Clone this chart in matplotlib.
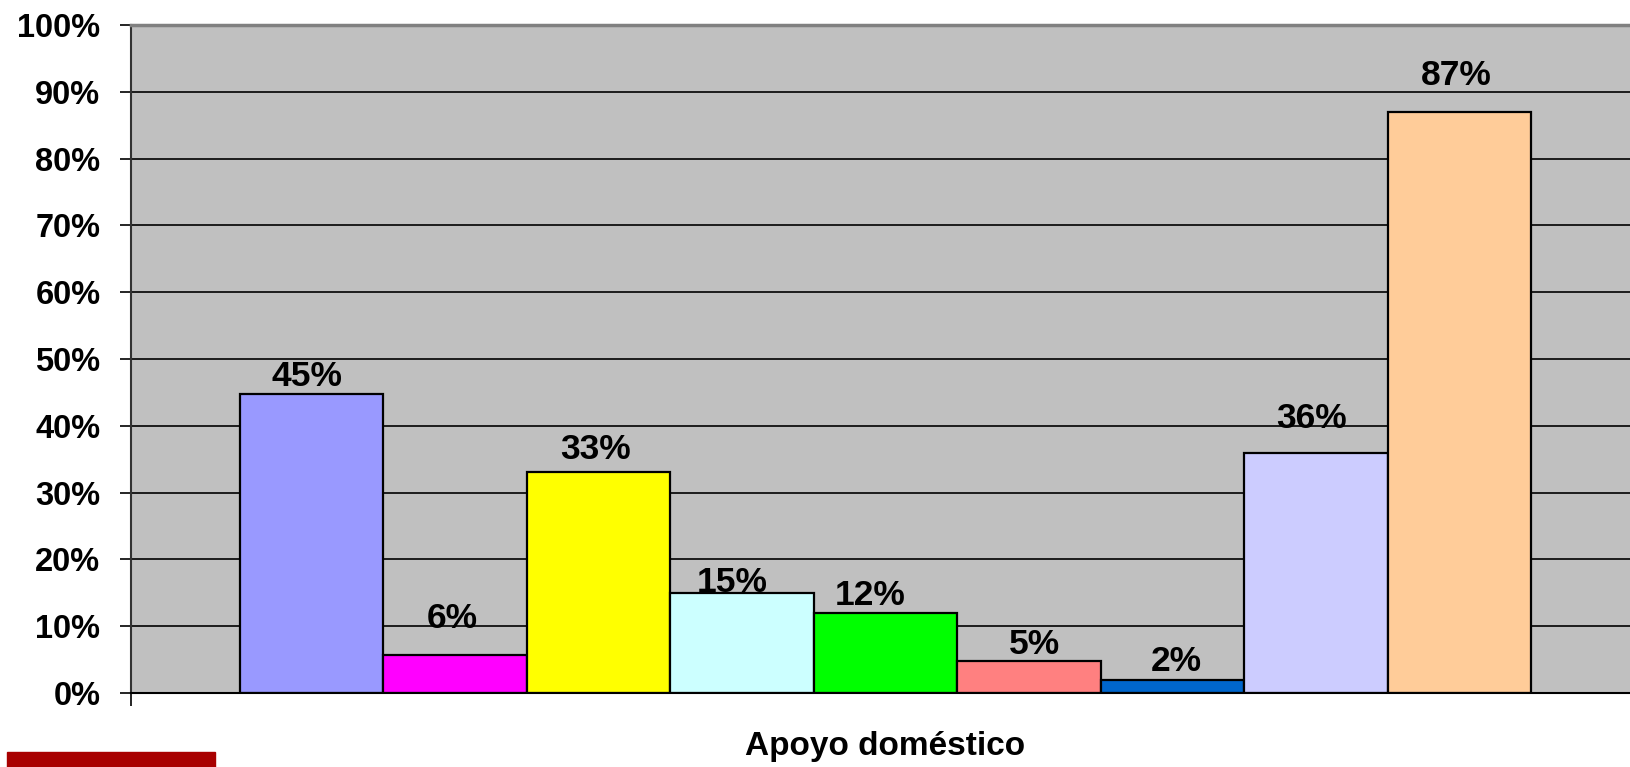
import matplotlib
matplotlib.use("Agg")
import matplotlib.pyplot as plt
from matplotlib.patches import Rectangle

plt.rcParams['font.family'] = ['Liberation Sans', 'DejaVu Sans']
plt.rcParams['font.weight'] = 'bold'

# data
values = [44.8, 5.7, 33.1, 15.0, 12.0, 4.8, 1.9, 36.0, 87.0]
labels = ["45%", "6%", "33%", "15%", "12%", "5%", "2%", "36%", "87%"]
colors = ["#9999FF", "#FF00FF", "#FFFF00", "#CCFFFF", "#00FF00",
          "#FF8080", "#0066CC", "#CCCCFF", "#FFCC99"]
xlabel = "Apoyo doméstico"
yticks = list(range(0, 101, 10))

# label offsets (pixels) from the top centre of each bar, as placed in the original
label_dx = [-5, -3, -3, -10, -15, 5, 4, -4, -3]
label_dy = [17, 36, 22, 10, 17, 16, 19, 34, 36]

W, H = 1631, 767
fig = plt.figure(figsize=(W / 100, H / 100), dpi=100)

left_px, right_px, top_px, bottom_px = 131, 1640, 25, 693
ax = fig.add_axes([left_px / W, 1 - bottom_px / H,
                   (right_px - left_px) / W, (bottom_px - top_px) / H])
ax.set_facecolor("#C0C0C0")

n = len(values)
xs = list(range(n))
bars = ax.bar(xs, values, width=1.0, color=colors, edgecolor="black",
              linewidth=1.6, zorder=3)

gap = 109 / 143.5
ax.set_xlim(-0.5 - gap, n - 0.5 + gap)
ax.set_ylim(0, 100)

for i, b in enumerate(bars):
    ax.annotate(labels[i], (b.get_x() + b.get_width() / 2, b.get_height()),
                xytext=(label_dx[i] * 0.72, label_dy[i] * 0.72),
                textcoords="offset points", ha="center", va="center",
                fontsize=25.5, fontweight="bold", zorder=4)

ax.set_yticks(yticks)
ax.set_yticklabels([f"{t}%" for t in yticks])
ax.tick_params(axis="y", direction="out", length=8, width=1.2,
               labelsize=23.5, pad=14)
ax.set_xticks([ax.get_xlim()[0], ax.get_xlim()[1]])
ax.set_xticklabels(["", ""])
ax.tick_params(axis="x", direction="out", length=9, width=1.2)

for t in yticks[1:-1]:
    ax.axhline(t, color="black", linewidth=1.2, zorder=1)

ax.spines["top"].set_color("#808080")
ax.spines["top"].set_linewidth(2.5)
ax.spines["right"].set_visible(False)
ax.spines["left"].set_linewidth(1.5)
ax.spines["left"].set_color("#333333")
ax.spines["bottom"].set_linewidth(1.5)
ax.spines["bottom"].set_zorder(5)

fig.text((left_px + right_px) / 2 / W, 1 - 747 / H, xlabel,
         ha="center", va="center", fontsize=24, fontweight="bold")

fig.patches.append(Rectangle((7 / W, 0), 208 / W, 15 / H,
                             transform=fig.transFigure, color="#A80000"))

fig.savefig("out.png", dpi=100)
